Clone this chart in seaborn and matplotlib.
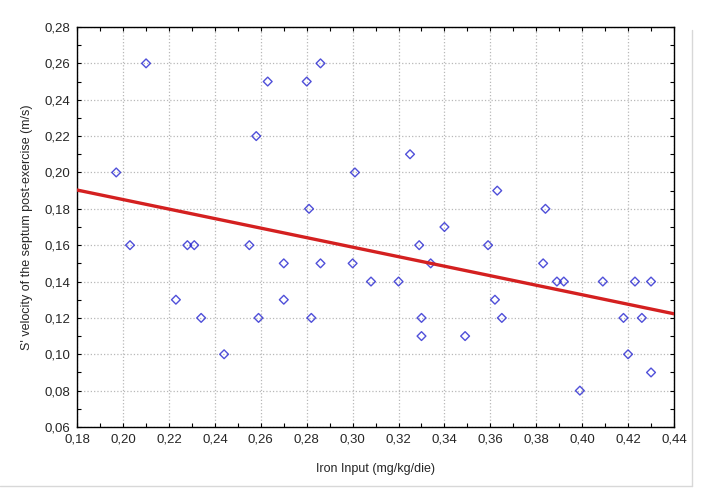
import numpy as np
import pandas as pd
import seaborn as sns
import matplotlib.pyplot as plt
from matplotlib.lines import Line2D
from matplotlib.ticker import MultipleLocator, FuncFormatter

# iron input (mg/kg/die)
iron = [0.210, 0.263, 0.280, 0.286, 0.258, 0.197, 0.301, 0.281,
        0.325, 0.363, 0.384, 0.340, 0.329, 0.359,
        0.203, 0.228, 0.231, 0.255, 0.270, 0.286, 0.300, 0.308,
        0.223, 0.270, 0.234, 0.259, 0.282, 0.244,
        0.320, 0.334, 0.383, 0.389, 0.392, 0.409, 0.423, 0.430,
        0.362, 0.330, 0.365, 0.418, 0.426, 0.330, 0.349, 0.420,
        0.430, 0.399]
# S' velocity of the septum post-exercise (m/s)
velocity = [0.26, 0.25, 0.25, 0.26, 0.22, 0.20, 0.20, 0.18,
            0.21, 0.19, 0.18, 0.17, 0.16, 0.16,
            0.16, 0.16, 0.16, 0.16, 0.15, 0.15, 0.15, 0.14,
            0.13, 0.13, 0.12, 0.12, 0.12, 0.10,
            0.14, 0.15, 0.15, 0.14, 0.14, 0.14, 0.14, 0.14,
            0.13, 0.12, 0.12, 0.12, 0.12, 0.11, 0.11, 0.10,
            0.09, 0.08]

df = pd.DataFrame({"iron": iron, "vel": velocity})

sns.set_style("white")
plt.rcParams["font.family"] = ["Liberation Sans", "DejaVu Sans"]

fig = plt.figure(figsize=(7.05, 4.99), dpi=100)
ax = fig.add_axes([0.1095, 0.1443, 0.8465, 0.8016])
ax.set_xlim(0.18, 0.44)
ax.set_ylim(0.06, 0.28)

sns.regplot(data=df, x="iron", y="vel", ax=ax, ci=None, truncate=False,
            marker="D",
            scatter_kws=dict(s=20, facecolors="none", edgecolors="#2424d0", linewidths=1.0, zorder=3),
            line_kws=dict(color="#d42020", lw=2.4, zorder=4))

ax.set_xlim(0.18, 0.44)
ax.set_ylim(0.06, 0.28)

comma = FuncFormatter(lambda v, p: f"{v:.2f}".replace(".", ","))
ax.xaxis.set_major_locator(MultipleLocator(0.02))
ax.yaxis.set_major_locator(MultipleLocator(0.02))
ax.xaxis.set_minor_locator(MultipleLocator(0.01))
ax.yaxis.set_minor_locator(MultipleLocator(0.01))
ax.xaxis.set_major_formatter(comma)
ax.yaxis.set_major_formatter(comma)
ax.tick_params(which="both", direction="in", length=3, width=0.8, color="black",
               top=True, right=True, bottom=True, left=True, labelsize=9.5, pad=5)

ax.grid(True, which="major", color="#b8b8b8", linestyle=":", linewidth=0.9)
for s in ax.spines.values():
    s.set_color("black")
    s.set_linewidth(1.0)

ax.set_xlabel("Iron Input (mg/kg/die)", fontsize=9, labelpad=12)
ax.set_ylabel("S' velocity of the septum post-exercise (m/s)", fontsize=9, labelpad=8)

# faint frame of the original screenshot (right and bottom edges)
fig.lines.append(Line2D([692 / 705, 692 / 705], [1 - 486 / 499, 1 - 30 / 499], transform=fig.transFigure,
                        color="#d8d8d8", lw=1))
fig.lines.append(Line2D([0, 692 / 705], [1 - 486 / 499, 1 - 486 / 499], transform=fig.transFigure,
                        color="#d8d8d8", lw=1))

fig.savefig("out.png", dpi=100)
